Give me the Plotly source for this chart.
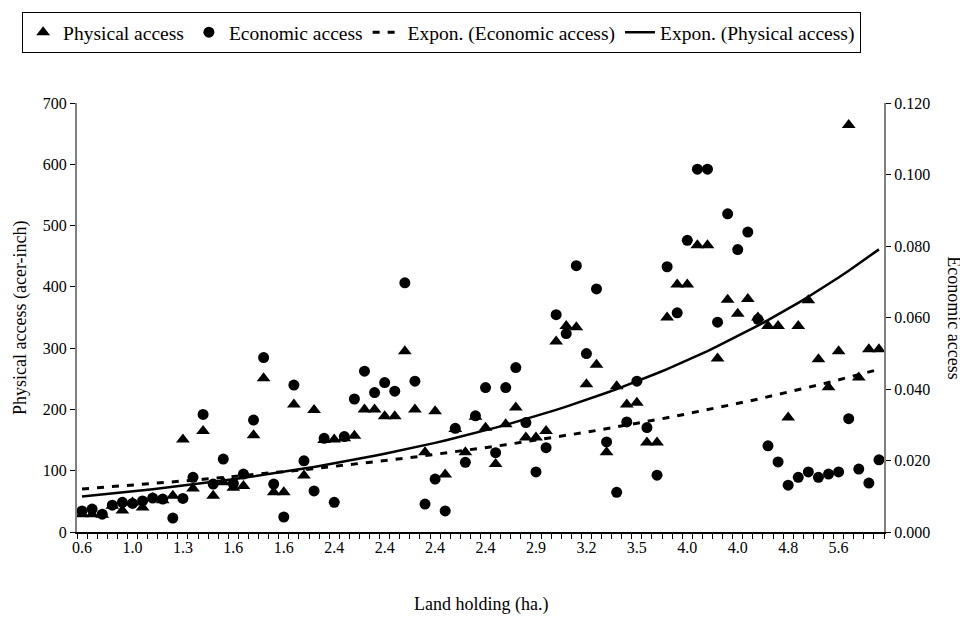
import numpy as np
import plotly.graph_objects as go

# ---- data ----
tick_labels = ["0.6", "1.0", "1.3", "1.6", "1.6", "2.4", "2.4", "2.4", "2.4", "2.9",
               "3.2", "3.5", "4.0", "4.0", "4.8", "5.6"]

physical = [29, 29, 28, 43, 35, 48, 40, 55, 52, 59,
            151, 71, 165, 59, 81, 72, 75, 158, 251, 65,
            65, 208, 92, 199, 150, 151, 153, 157, 200, 200,
            189, 189, 295, 200, 130, 197, 94, 168, 130, 188,
            170, 111, 176, 203, 154, 154, 165, 311, 336, 334,
            241, 273, 130, 238, 208, 211, 146, 146, 350, 404,
            404, 468, 468, 283, 379, 356, 380, 350, 336, 336,
            187, 336, 378, 282, 236, 295, 664, 252, 298, 298]

economic = [0.0059, 0.0064, 0.0050, 0.0075, 0.0083, 0.0080, 0.0087, 0.0095, 0.0092, 0.0039,
            0.0094, 0.0153, 0.0329, 0.0134, 0.0204, 0.0136, 0.0162, 0.0313, 0.0488, 0.0134,
            0.0042, 0.0411, 0.0199, 0.0115, 0.0262, 0.0083, 0.0267, 0.0372, 0.0450, 0.0390,
            0.0418, 0.0394, 0.0697, 0.0422, 0.0078, 0.0148, 0.0059, 0.0290, 0.0195, 0.0325,
            0.0404, 0.0222, 0.0404, 0.0460, 0.0306, 0.0168, 0.0236, 0.0608, 0.0555, 0.0745,
            0.0499, 0.0680, 0.0252, 0.0111, 0.0308, 0.0422, 0.0292, 0.0159, 0.0742, 0.0613,
            0.0816, 0.1015, 0.1015, 0.0587, 0.0890, 0.0790, 0.0839, 0.0595, 0.0241, 0.0196,
            0.0131, 0.0153, 0.0168, 0.0153, 0.0162, 0.0168, 0.0317, 0.0176, 0.0137, 0.0202]

n = len(physical)
idx = np.arange(n)
label_step = 5

# Exponential trend lines (least squares on log values, like a spreadsheet "Expon." trendline)
xfit = idx + 1
bp, ap = np.polyfit(xfit, np.log(physical), 1)
be, ae = np.polyfit(xfit, np.log(economic), 1)
phys_trend = np.exp(ap + bp * xfit)
econ_trend = np.exp(ae + be * xfit)

FONT = "Liberation Serif"
fig = go.Figure()

fig.add_trace(go.Scatter(x=idx, y=physical, mode="markers", name="Physical access",
                         marker=dict(symbol="triangle-up", size=12, color="black"),
                         yaxis="y"))
fig.add_trace(go.Scatter(x=idx, y=economic, mode="markers", name="Economic access",
                         marker=dict(symbol="circle", size=11, color="black"),
                         yaxis="y2"))
fig.add_trace(go.Scatter(x=idx, y=econ_trend, mode="lines", name="Expon. (Economic access)",
                         line=dict(color="black", width=3, dash="7px,8px"), yaxis="y2"))
fig.add_trace(go.Scatter(x=idx, y=phys_trend, mode="lines", name="Expon. (Physical access)",
                         line=dict(color="black", width=2.5), yaxis="y"))

boundaries = list(np.arange(n + 1) - 0.5)
xrange_ = [-0.5, n - 0.5]

fig.update_layout(
    width=960, height=610,
    margin=dict(l=69, r=84, t=95, b=86, autoexpand=False),
    paper_bgcolor="white", plot_bgcolor="white",
    font=dict(family=FONT, size=16, color="black"),
    showlegend=True,
    legend=dict(orientation="h", x=-0.068, xanchor="left", xref="paper",
                y=1.212, yanchor="top", yref="paper",
                bordercolor="black", borderwidth=1,
                font=dict(family=FONT, size=19.5), itemwidth=30,
                tracegroupgap=0),
    xaxis=dict(range=xrange_, tickmode="array", tickvals=list(idx[::label_step]),
               ticktext=tick_labels, ticks="", showline=True, linecolor="black",
               linewidth=1.5, showgrid=False, zeroline=False,
               minor=dict(tickmode="array", tickvals=boundaries, ticks="outside",
                          ticklen=5, tickcolor="black", tickwidth=1),
               tickfont=dict(size=16)),
    xaxis2=dict(range=xrange_, overlaying="x", anchor="y", side="bottom",
                tickmode="array", tickvals=boundaries, ticks="inside", ticklen=5,
                tickcolor="black", showticklabels=False, showline=False,
                showgrid=False, zeroline=False),
    yaxis=dict(range=[0, 700], dtick=100, tick0=0, ticks="outside", ticklen=5,
               tickcolor="black", showline=True, linecolor="#808080", linewidth=2,
               showgrid=False, zeroline=False, tickfont=dict(size=16)),
    yaxis3=dict(range=[0, 700], dtick=100, tick0=0, overlaying="y", side="left",
                anchor="x", ticks="inside", ticklen=5, tickcolor="black",
                showticklabels=False, showline=False, showgrid=False, zeroline=False),
    yaxis2=dict(range=[0, 0.12], dtick=0.02, tick0=0, tickformat=".3f", overlaying="y",
                side="right", anchor="x", ticks="outside", ticklen=5, tickcolor="black",
                showline=True, linecolor="#808080", linewidth=2, showgrid=False,
                zeroline=False, tickfont=dict(size=16)),
    yaxis4=dict(range=[0, 0.12], dtick=0.02, tick0=0, overlaying="y", side="right",
                anchor="x", ticks="inside", ticklen=5, tickcolor="black",
                showticklabels=False, showline=False, showgrid=False, zeroline=False),
    annotations=[
        dict(text="Land holding (ha.)", xref="paper", yref="paper", x=0.5, y=-0.17,
             xanchor="center", yanchor="middle", showarrow=False,
             font=dict(family=FONT, size=18)),
        dict(text="Physical access (acer-inch)", xref="paper", yref="paper",
             x=-0.07, y=0.5, xanchor="center", yanchor="middle", textangle=-90,
             showarrow=False, font=dict(family=FONT, size=18)),
        dict(text="Economic access", xref="paper", yref="paper",
             x=1.087, y=0.5, xanchor="center", yanchor="middle", textangle=90,
             showarrow=False, font=dict(family=FONT, size=18)),
    ],
)

fig.write_html("out.html")
